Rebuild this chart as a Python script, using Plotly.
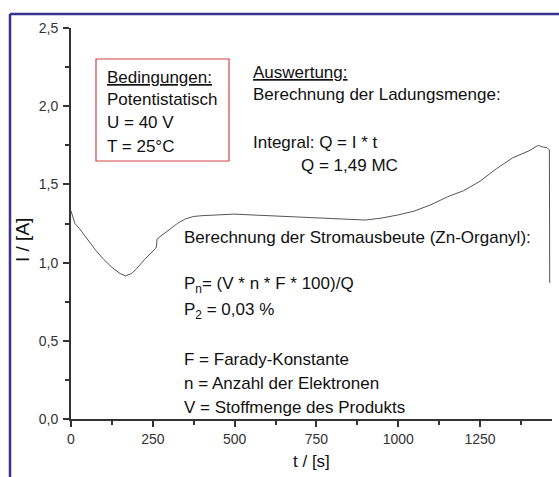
import plotly.graph_objects as go

# data
t_s = [0, 5, 12, 25, 50, 75, 100, 125, 150, 167, 185, 200, 225, 250, 258, 261, 263, 275, 300,
       325, 350, 375, 400, 450, 500, 550, 600, 650, 700, 750, 800, 850, 900, 950, 1000,
       1050, 1100, 1150, 1200, 1250, 1300, 1350, 1400, 1428, 1440, 1455, 1462, 1463]
i_a = [1.33, 1.30, 1.25, 1.22, 1.15, 1.08, 1.02, 0.97, 0.93, 0.915, 0.93, 0.96, 1.02, 1.07, 1.09,
       1.10, 1.15, 1.17, 1.21, 1.25, 1.28, 1.295, 1.30, 1.305, 1.31, 1.305, 1.30, 1.295, 1.29,
       1.285, 1.28, 1.275, 1.272, 1.285, 1.305, 1.33, 1.37, 1.42, 1.46, 1.52, 1.60, 1.67,
       1.715, 1.75, 1.74, 1.735, 1.72, 0.87]

x_ticks = [0, 250, 500, 750, 1000, 1250]
x_ticktext = ["0", "250", "500", "750", "1000", "1250"]
y_ticks = [0, 0.5, 1.0, 1.5, 2.0, 2.5]
y_ticktext = ["0,0", "0,5", "1,0", "1,5", "2,0", "2,5"]

W, H = 559, 477
L, R, T, B = 71, 7, 28, 58
pw, ph = W - L - R, H - T - B

def px(x):
    return (x - L) / pw

def py(y):
    return (H - B - y) / ph

FONT = "Liberation Sans, Arial, sans-serif"
TXT = "#111111"

fig = go.Figure()
fig.add_trace(go.Scatter(x=t_s, y=i_a, mode="lines",
                         line=dict(color="#555555", width=1), showlegend=False,
                         hoverinfo="skip"))

axis_common = dict(showline=True, linecolor="#333333", linewidth=2, ticks="outside",
                   tickcolor="#333333", tickwidth=2, ticklen=6, showgrid=False,
                   zeroline=False, tickfont=dict(family=FONT, size=14, color="#333333"))

fig.update_xaxes(range=[0, 1470], tickvals=x_ticks, ticktext=x_ticktext,
                 minor=dict(ticks="outside", ticklen=4, tickwidth=2, tickcolor="#333333",
                            tickvals=[125, 375, 625, 875, 1125, 1375]),
                 **axis_common)
fig.update_yaxes(range=[0, 2.5], tickvals=y_ticks, ticktext=y_ticktext,
                 minor=dict(ticks="outside", ticklen=4, tickwidth=2, tickcolor="#333333",
                            tickvals=[0.25, 0.75, 1.25, 1.75, 2.25]),
                 ticklabelstandoff=2,
                 **axis_common)

shapes = [
    # blue frame (top and left edge)
    dict(type="line", xref="paper", yref="paper", x0=px(10), x1=px(W + 5), y0=py(14), y1=py(14),
         line=dict(color="#3a3391", width=2.5)),
    dict(type="line", xref="paper", yref="paper", x0=px(10), x1=px(10), y0=py(14), y1=py(H + 5),
         line=dict(color="#3a3391", width=2.5)),
    # red box
    dict(type="rect", xref="paper", yref="paper", x0=px(96), x1=px(229), y0=py(59), y1=py(161),
         line=dict(color="#d04545", width=1.2)),
]

texts = [
    ("<u>Bedingungen:</u>", 105, 77),
    ("Potentistatisch", 105, 100),
    ("U = 40 V", 105, 123),
    ("T = 25°C", 105, 146),
    ("<u>Auswertung:</u>", 251, 72),
    ("Berechnung der Ladungsmenge:", 251, 94),
    ("Integral: Q = I * t", 251, 142),
    ("Q = 1,49 MC", 299, 165),
    ("Berechnung der Stromausbeute (Zn-Organyl):", 182, 237),
    ("P<sub>n</sub>= (V * n * F * 100)/Q", 182, 285),
    ("P<sub>2</sub> = 0,03 %", 182, 311),
    ("F = Farady-Konstante", 182, 359),
    ("n = Anzahl der Elektronen", 182, 383),
    ("V = Stoffmenge des Produkts", 182, 407),
]
annotations = []
for s, x, y in texts:
    annotations.append(dict(text=s, x=px(x), y=py(y), xref="paper", yref="paper",
                            xanchor="left", yanchor="middle", showarrow=False,
                            font=dict(family=FONT, size=17, color=TXT)))
annotations.append(dict(text="t / [s]", x=px(311), y=py(461), xref="paper", yref="paper",
                        xanchor="center", yanchor="middle", showarrow=False,
                        font=dict(family=FONT, size=17, color=TXT)))
annotations.append(dict(text="I / [A]", x=px(22), y=py(240), xref="paper", yref="paper",
                        xanchor="center", yanchor="middle", showarrow=False, textangle=-90,
                        font=dict(family=FONT, size=19, color=TXT)))

fig.update_layout(width=W, height=H, margin=dict(l=L, r=R, t=T, b=B),
                  paper_bgcolor="white", plot_bgcolor="white",
                  shapes=shapes, annotations=annotations, showlegend=False)

fig.write_html("out.html")
